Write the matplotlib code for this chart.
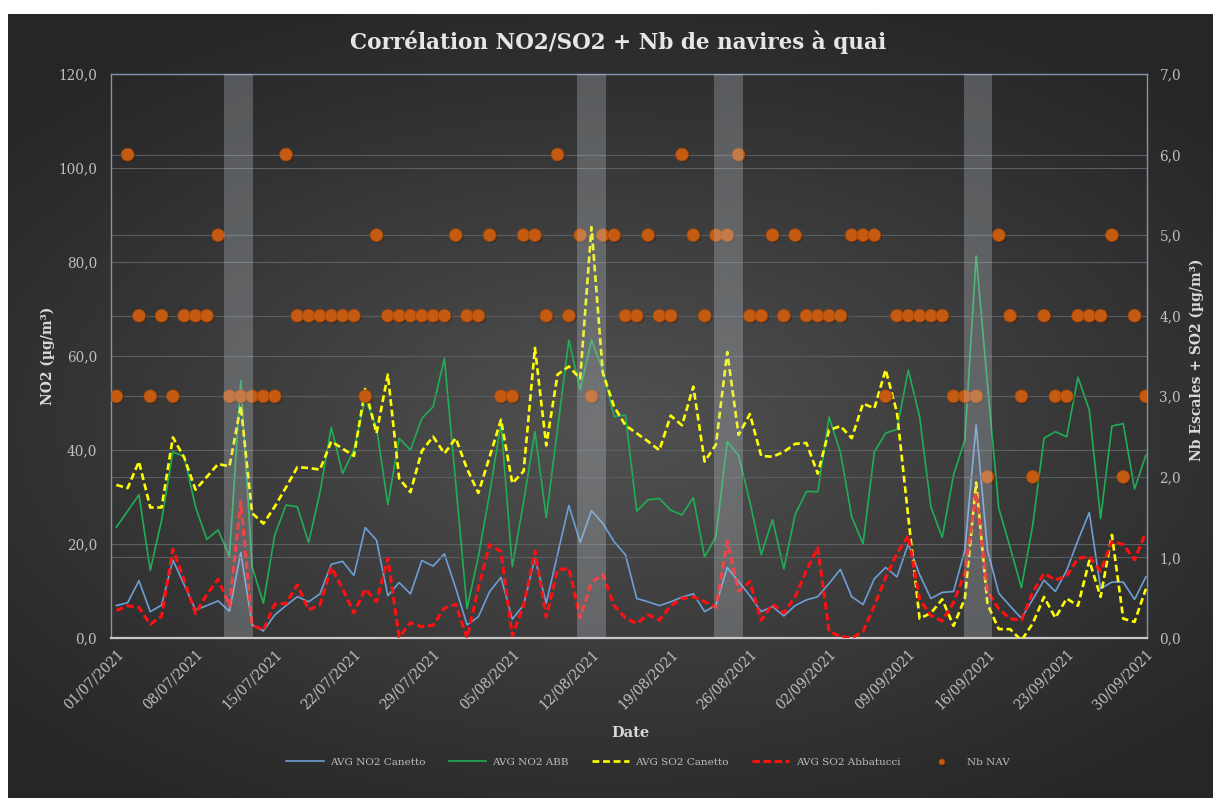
import numpy as np
import pandas as pd
import matplotlib
matplotlib.use('Agg')
import matplotlib.pyplot as plt
from matplotlib.ticker import FuncFormatter
import matplotlib.patheffects as pe

plt.rcParams['font.family'] = ['DejaVu Serif', 'DejaVu Sans']

dates = pd.date_range('2021-07-01', '2021-09-30', freq='D')

# NO2 (axe gauche)
no2_canetto = [6.9, 7.5, 12.2, 5.6, 7.0, 16.6, 11.3, 6.0, 6.9, 7.9,
               5.7, 18.2, 2.8, 1.5, 4.9, 6.9, 8.8, 7.7, 9.4, 15.7,
               16.3, 13.3, 23.5, 20.8, 9.0, 11.8, 9.4, 16.5, 15.3, 17.9,
               10.6, 2.8, 4.5, 9.9, 12.9, 4.0, 7.0, 17.0, 7.4, 17.8,
               28.2, 20.3, 27.1, 24.4, 20.5, 17.7, 8.4, 7.7, 6.9, 7.7,
               8.7, 9.4, 5.6, 7.0, 15.0, 12.0, 9.0, 5.6, 6.7, 4.7,
               6.9, 8.1, 8.8, 11.6, 14.6, 8.8, 7.1, 12.6, 15.0, 13.0,
               20.0, 13.5, 8.4, 9.7, 9.9, 18.7, 45.3, 18.7, 9.5, 6.8,
               4.2, 8.2, 12.3, 9.9, 14.4, 20.8, 26.7, 10.5, 11.9, 11.9,
               8.2, 13.0]
no2_abb = [23.6, 27.0, 30.5, 14.4, 25.0, 39.6, 38.6, 27.9, 21.0, 23.0,
           17.4, 54.7, 15.2, 7.4, 21.9, 28.3, 27.9, 20.3, 31.0, 44.8,
           35.0, 40.0, 51.0, 44.7, 28.4, 42.5, 40.0, 46.7, 49.2, 59.5,
           33.0, 6.3, 17.3, 30.8, 45.7, 15.2, 29.0, 43.9, 25.6, 44.5,
           63.4, 52.8, 63.4, 57.0, 47.1, 47.4, 27.0, 29.4, 29.7, 27.2,
           26.2, 29.9, 17.2, 21.6, 41.8, 38.8, 29.0, 17.7, 25.2, 14.7,
           26.3, 31.2, 31.1, 47.0, 39.5, 25.8, 20.0, 39.6, 43.6, 44.4,
           57.0, 47.1, 27.9, 21.4, 34.7, 42.1, 81.3, 54.0, 27.6, 19.3,
           10.7, 24.0, 42.5, 43.9, 42.8, 55.5, 48.5, 25.4, 45.1, 45.6,
           31.7, 38.9]

# SO2 et nombre de navires (axe droit)
so2_canetto = [1.90, 1.86, 2.19, 1.62, 1.62, 2.49, 2.24, 1.84, 2.00, 2.16,
               2.13, 2.88, 1.55, 1.42, 1.63, 1.87, 2.12, 2.11, 2.09, 2.44,
               2.35, 2.26, 3.09, 2.54, 3.27, 1.98, 1.81, 2.32, 2.50, 2.29,
               2.48, 2.10, 1.80, 2.25, 2.71, 1.92, 2.07, 3.60, 2.39, 3.27,
               3.37, 3.22, 5.10, 3.29, 2.87, 2.64, 2.54, 2.44, 2.33, 2.76,
               2.64, 3.12, 2.19, 2.40, 3.55, 2.52, 2.78, 2.26, 2.25, 2.31,
               2.41, 2.42, 2.04, 2.58, 2.63, 2.48, 2.91, 2.85, 3.33, 2.80,
               1.50, 0.24, 0.31, 0.48, 0.15, 0.49, 1.93, 0.42, 0.11, 0.11,
               -0.03, 0.18, 0.51, 0.25, 0.49, 0.40, 0.96, 0.51, 1.28, 0.24,
               0.20, 0.61]
so2_abbatucci = [0.34, 0.40, 0.38, 0.17, 0.27, 1.10, 0.72, 0.30, 0.54, 0.73,
                 0.40, 1.69, 0.16, 0.10, 0.42, 0.43, 0.66, 0.35, 0.41, 0.88,
                 0.61, 0.31, 0.61, 0.45, 0.99, 0.01, 0.19, 0.14, 0.16, 0.37,
                 0.42, 0.00, 0.62, 1.16, 1.07, 0.03, 0.40, 1.08, 0.26, 0.85,
                 0.86, 0.25, 0.69, 0.79, 0.40, 0.25, 0.18, 0.29, 0.22, 0.40,
                 0.49, 0.51, 0.45, 0.38, 1.20, 0.58, 0.70, 0.22, 0.42, 0.31,
                 0.51, 0.84, 1.12, 0.08, 0.02, 0.00, 0.08, 0.40, 0.75, 1.05,
                 1.27, 0.48, 0.28, 0.21, 0.44, 0.81, 1.80, 0.58, 0.36, 0.24,
                 0.22, 0.57, 0.80, 0.72, 0.77, 0.99, 1.01, 0.83, 1.20, 1.16,
                 0.97, 1.31]
nb_nav = [3, 6, 4, 3, 4, 3, 4, 4, 4, 5,
          3, 3, 3, 3, 3, 6, 4, 4, 4, 4,
          4, 4, 3, 5, 4, 4, 4, 4, 4, 4,
          5, 4, 4, 5, 3, 3, 5, 5, 4, 6,
          4, 5, 3, 5, 5, 4, 4, 5, 4, 4,
          6, 5, 4, 5, 5, 6, 4, 4, 5, 4,
          5, 4, 4, 4, 4, 5, 5, 5, 3, 4,
          4, 4, 4, 4, 3, 3, 3, 2, 5, 4,
          3, 2, 4, 3, 3, 4, 4, 4, 5, 2,
          4, 3]

# periodes grisees (debut, fin) en jours depuis le 01/07
bands = [(9.5, 12.1), (40.7, 43.3), (52.8, 55.4), (74.9, 77.4)]

x = np.arange(len(dates))

fig = plt.figure(figsize=(12.13, 7.98), dpi=100)
fig.patch.set_facecolor('white')

# fond sombre en degrade radial
bg = fig.add_axes([8 / 1213, 0, 1 - 8 / 1213, 1 - 14 / 798])
gx, gy = np.meshgrid(np.linspace(-1, 1, 400), np.linspace(-1, 1, 300))
r = np.sqrt((gx * 0.95) ** 2 + ((gy - 0.05) * 1.1) ** 2)
val = 0.15 + 0.17 * np.clip(1 - r / 1.3, 0, 1) ** 1.1
bg.imshow(np.dstack([val, val, val]), aspect='auto', extent=[0, 1, 0, 1])
bg.set_axis_off()

ax = fig.add_axes([111 / 1213, 1 - 638 / 798, 1036 / 1213, 564 / 798])
ax.set_facecolor('none')
ax2 = ax.twinx()

l1, = ax.plot(x, no2_canetto, color='#6d9fd6', lw=1.2, label='AVG NO2 Canetto', zorder=3)
l2, = ax.plot(x, no2_abb, color='#1fae55', lw=1.2, label='AVG NO2 ABB', zorder=3)

l3, = ax2.plot(x, so2_canetto, color='#ffff00', lw=1.9, dashes=(2.6, 1.4),
               label='AVG SO2 Canetto', zorder=4)
l4, = ax2.plot(x, so2_abbatucci, color='#ff1010', lw=2.2, dashes=(2.4, 1.2),
               label='AVG SO2 Abbatucci', zorder=4)
sc = ax2.scatter(x, nb_nav, s=85, color='#c55a11', edgecolors='#9c460c', linewidths=0.5,
                 label='Nb NAV', zorder=5,
                 path_effects=[pe.withSimplePatchShadow(offset=(1.2, -1.2), alpha=0.35)])

for a, b in bands:
    ax2.axvspan(a, b, facecolor='#c8d0d8', alpha=0.28, lw=0, zorder=10)

ax.set_xlim(-0.47, 91.1)
ax.set_ylim(0, 120)
ax2.set_ylim(0, 7)
ax.set_yticks(np.arange(0, 121, 20))
ax2.set_yticks(np.arange(0, 8, 1))

fmt = FuncFormatter(lambda v, p: f'{v:.1f}'.replace('.', ','))
ax.yaxis.set_major_formatter(fmt)
ax2.yaxis.set_major_formatter(fmt)

tick_pos = x[::7]
ax.set_xticks(tick_pos)
ax.set_xticklabels([dates[i].strftime('%d/%m/%Y') for i in tick_pos],
                   rotation=45, ha='right', rotation_mode='anchor')

for a_ in (ax, ax2):
    a_.tick_params(length=0, colors='#bfbfbf', labelsize=9.8)
    for s in a_.spines.values():
        s.set_visible(False)
ax.tick_params(axis='y', pad=10)
ax2.tick_params(axis='y', pad=9)
ax.tick_params(axis='x', pad=6)

ax.grid(axis='y', color='#5d6063', lw=0.8)
ax2.grid(axis='y', color='#5a5d60', lw=0.8)
ax.set_axisbelow(True)

for side in ('left', 'top', 'right'):
    ax2.spines[side].set_visible(True)
    ax2.spines[side].set_color('#7f95b0')
    ax2.spines[side].set_linewidth(1.0)
ax2.spines['bottom'].set_visible(True)
ax2.spines['bottom'].set_color('#c8c8c8')
ax2.spines['bottom'].set_linewidth(1.6)

fig.text(618 / 1213, 1 - 42 / 798, 'Corrélation NO2/SO2 + Nb de navires à quai',
         ha='center', va='center', fontsize=15.5, fontweight='bold', color='#e6e6e6')
fig.text(48 / 1213, 1 - 356 / 798, 'NO2 (µg/m³)', rotation=90, ha='center', va='center',
         fontsize=10, fontweight='bold', color='#d9d9d9')
fig.text(1197 / 1213, 1 - 360 / 798, 'Nb Escales + SO2 (µg/m³)', rotation=90,
         ha='center', va='center', fontsize=10, fontweight='bold', color='#d9d9d9')
fig.text(630 / 1213, 1 - 733 / 798, 'Date', ha='center', va='center',
         fontsize=10.5, fontweight='bold', color='#d9d9d9')

fig.legend(handles=[l1, l2, l3, l4, sc], loc='center',
           bbox_to_anchor=(648 / 1213, 1 - 762 / 798), ncol=5, frameon=False,
           fontsize=7.5, labelcolor='#bfbfbf', handlelength=3.6, handletextpad=0.6,
           columnspacing=2.2, markerscale=0.45)

fig.savefig('out.png', dpi=100)
